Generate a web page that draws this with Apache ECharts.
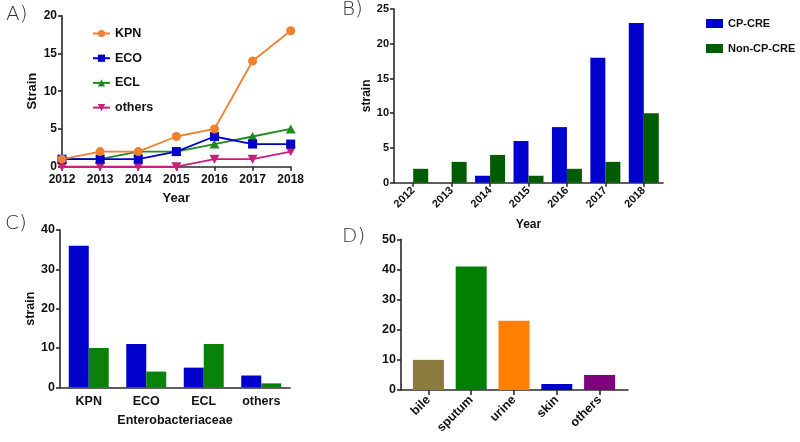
<!DOCTYPE html>
<html>
<head>
<meta charset="utf-8">
<script src="https://cdn.jsdelivr.net/npm/echarts@6/dist/echarts.min.js"></script>
<style>
html,body{margin:0;padding:0;background:#fff;}
#chart{width:800px;height:442px;}
</style>
</head>
<body>
<div id="chart"></div>
<script>
// ---- Data ----
const years = ['2012', '2013', '2014', '2015', '2016', '2017', '2018'];
const kpnByYear = [1, 2, 2, 4, 5, 14, 18];
const ecoByYear = [1, 1, 1, 2, 4, 3, 3];
const eclByYear = [1, 1, 2, 2, 3, 4, 5];
const othersByYear = [0, 0, 0, 0, 1, 1, 2];

const cpCreByYear = [0, 0, 1, 6, 8, 18, 23];
const nonCpCreByYear = [2, 3, 4, 1, 2, 3, 10];

const families = ['KPN', 'ECO', 'ECL', 'others'];
const cpCreByFamily = [36, 11, 5, 3];
const nonCpCreByFamily = [10, 4, 11, 1];

const specimens = ['bile', 'sputum', 'urine', 'skin', 'others'];
const specimenCounts = [10, 41, 23, 2, 5];

// ---- Styles ----
const FONT = 'Liberation Sans';
const AX = '#2a2a2a';
const TXT = '#111';
const specimenColors = ['#8C7B3E', '#007F00', '#FF8000', '#0000CC', '#800080'];

function axisLine() { return { show: true, lineStyle: { color: AX, width: 1.6 } }; }
function tick(len) { return { show: true, length: len, lineStyle: { color: AX, width: 1.6 } }; }
function lab(size, extra) {
  return Object.assign({ color: TXT, fontFamily: FONT, fontWeight: 'bold', fontSize: size }, extra || {});
}

const chart = echarts.init(document.getElementById('chart'), null, { renderer: 'canvas' });

const option = {
  backgroundColor: '#fff',
  animation: false,
  graphic: [
    { type: 'text', left: 6, top: 5, style: { text: 'A)', font: '200 20px "DejaVu Sans"', fill: '#333' } },
    { type: 'text', left: 342, top: 0, style: { text: 'B)', font: '200 20px "DejaVu Sans"', fill: '#333' } },
    { type: 'text', left: 5, top: 214, style: { text: 'C)', font: '200 20px "DejaVu Sans"', fill: '#333' } },
    { type: 'text', left: 342, top: 227, style: { text: 'D)', font: '200 20px "DejaVu Sans"', fill: '#333' } }
  ],
  legend: [
    {
      data: ['KPN', 'ECO', 'ECL', 'others'],
      orient: 'vertical', left: 87, top: 22, itemWidth: 17, itemHeight: 9, itemGap: 11.7,
      textStyle: lab(12.5), selectedMode: false
    },
    {
      data: ['CP-CRE', 'Non-CP-CRE'],
      orient: 'vertical', left: 701, top: 13, itemWidth: 17, itemHeight: 9, itemGap: 14,
      icon: 'rect', textStyle: lab(11), selectedMode: false
    }
  ],
  grid: [
    { left: 62, top: 15.7, width: 228.7, height: 151 },
    { left: 394, top: 9, width: 269, height: 173.7 },
    { left: 60, top: 230, width: 230, height: 157.3 },
    { left: 401, top: 239.3, width: 227, height: 150.7 },
    { left: 407, top: 239.3, width: 214, height: 150.7 }
  ],
  xAxis: [
    {
      gridIndex: 0, type: 'category', data: years, boundaryGap: false,
      axisLine: axisLine(), axisTick: tick(4), axisLabel: lab(12, { margin: 7 }),
      name: 'Year', nameLocation: 'middle', nameGap: 25, nameTextStyle: lab(13)
    },
    {
      gridIndex: 1, type: 'category', data: years,
      axisLine: axisLine(), axisTick: Object.assign(tick(4), { alignWithLabel: true }),
      axisLabel: lab(11, { rotate: 45, margin: 6, interval: 0 }),
      name: 'Year', nameLocation: 'middle', nameGap: 36, nameTextStyle: lab(12)
    },
    {
      gridIndex: 2, type: 'category', data: families,
      axisLine: axisLine(), axisTick: { show: false }, axisLabel: lab(12.5, { margin: 8, interval: 0 }),
      name: 'Enterobacteriaceae', nameLocation: 'middle', nameGap: 27, nameTextStyle: lab(12.5)
    },
    {
      gridIndex: 3, type: 'value', min: 0, max: 1,
      axisLine: axisLine(), axisTick: { show: false }, axisLabel: { show: false }, splitLine: { show: false }
    },
    {
      gridIndex: 4, type: 'category', data: specimens,
      axisLine: { show: false }, axisTick: Object.assign(tick(5), { alignWithLabel: true }),
      axisLabel: lab(12.5, { rotate: 45, margin: 8, interval: 0 })
    }
  ],
  yAxis: [
    {
      gridIndex: 0, type: 'value', min: 0, max: 20, interval: 5,
      axisLine: axisLine(), axisTick: tick(4), axisLabel: lab(12, { margin: 5 }), splitLine: { show: false },
      name: 'Strain', nameLocation: 'middle', nameGap: 23, nameTextStyle: lab(13)
    },
    {
      gridIndex: 1, type: 'value', min: 0, max: 25, interval: 5,
      axisLine: axisLine(), axisTick: tick(4), axisLabel: lab(11, { margin: 5 }), splitLine: { show: false },
      name: 'strain', nameLocation: 'middle', nameGap: 20, nameTextStyle: lab(12)
    },
    {
      gridIndex: 2, type: 'value', min: 0, max: 40, interval: 10,
      axisLine: axisLine(), axisTick: tick(4), axisLabel: lab(12.5, { margin: 5 }), splitLine: { show: false },
      name: 'strain', nameLocation: 'middle', nameGap: 21, nameTextStyle: lab(12.5)
    },
    {
      gridIndex: 3, type: 'value', min: 0, max: 50, interval: 10,
      axisLine: axisLine(), axisTick: tick(4), axisLabel: lab(12.5, { margin: 5 }), splitLine: { show: false }
    },
    {
      gridIndex: 4, type: 'value', min: 0, max: 50, interval: 10, show: false
    }
  ],
  series: [
    {
      name: 'others', type: 'line', xAxisIndex: 0, yAxisIndex: 0, data: othersByYear,
      symbol: 'path://M0,0 L10,0 L5,9 Z', symbolSize: [10, 9],
      itemStyle: { color: '#C81E7C' }, lineStyle: { color: '#C81E7C', width: 1.8 }
    },
    {
      name: 'ECL', type: 'line', xAxisIndex: 0, yAxisIndex: 0, data: eclByYear,
      symbol: 'triangle', symbolSize: [10, 9],
      itemStyle: { color: '#1E8C1E' }, lineStyle: { color: '#1E8C1E', width: 1.8 }
    },
    {
      name: 'ECO', type: 'line', xAxisIndex: 0, yAxisIndex: 0, data: ecoByYear,
      symbol: 'rect', symbolSize: 9,
      itemStyle: { color: '#0000C8' }, lineStyle: { color: '#0000C8', width: 1.8 }
    },
    {
      name: 'KPN', type: 'line', xAxisIndex: 0, yAxisIndex: 0, data: kpnByYear,
      symbol: 'circle', symbolSize: 9,
      itemStyle: { color: '#F0802E' }, lineStyle: { color: '#F0802E', width: 1.8 }
    },
    {
      name: 'CP-CRE', type: 'bar', xAxisIndex: 1, yAxisIndex: 1, data: cpCreByYear,
      barWidth: 15, barGap: '0%', itemStyle: { color: '#0000CC' }
    },
    {
      name: 'Non-CP-CRE', type: 'bar', xAxisIndex: 1, yAxisIndex: 1, data: nonCpCreByYear,
      barWidth: 15, barGap: '0%', itemStyle: { color: '#005C00' }
    },
    {
      name: 'C CP-CRE', type: 'bar', xAxisIndex: 2, yAxisIndex: 2, data: cpCreByFamily,
      barWidth: 20, barGap: '0%', itemStyle: { color: '#0000CC' }
    },
    {
      name: 'C Non-CP-CRE', type: 'bar', xAxisIndex: 2, yAxisIndex: 2, data: nonCpCreByFamily,
      barWidth: 20, barGap: '0%', itemStyle: { color: '#0A820A' }
    },
    {
      name: 'Specimen', type: 'bar', xAxisIndex: 4, yAxisIndex: 4,
      data: specimenCounts.map((v, i) => ({ value: v, itemStyle: { color: specimenColors[i] } })),
      barWidth: 31
    }
  ]
};

chart.setOption(option);
</script>
</body>
</html>
